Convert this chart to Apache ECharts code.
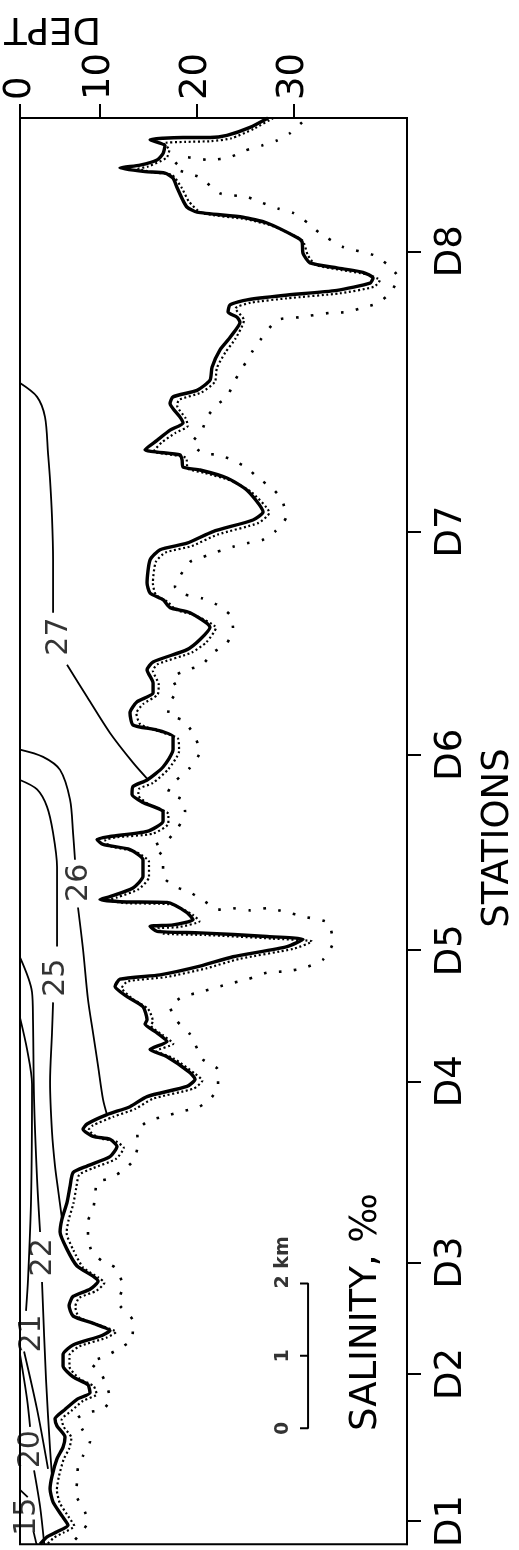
<!DOCTYPE html>
<html><head><meta charset="utf-8">
<script src="https://cdn.jsdelivr.net/npm/echarts@6/dist/echarts.min.js"></script>
<style>html,body{margin:0;padding:0;background:#fff}#c{width:519px;height:1550px}</style>
</head><body><div id="c"></div>
<script>
// depth axis (m) - the "0" tick sits at the surface edge of the frame
const depthTickValues = [1.8, 10, 20, 30];
const depthTickLabels = ['0', '10', '20', '30'];
// stations along the section (km from D1)
const stationNames = ['D1','D2','D3','D4','D5','D6','D7','D8'];
const stationKm = [0, 2.03, 3.57, 6.07, 7.88, 10.58, 13.66, 17.53];

// bottom profile, solid  [depth m, distance km]
const bottomSolid = [[27.37,19.37],[25.52,19.24],[23.14,19.13],[21.39,19.10],[18.61,19.10],[16.55,19.09],[15.21,19.07],[16.75,18.99],[16.55,18.88],[15.93,18.79],[14.18,18.72],[12.11,18.68],[14.69,18.63],[16.75,18.61],[17.58,18.54],[17.99,18.41],[18.61,18.23],[19.02,18.14],[20.05,18.07],[24.79,18.00],[27.27,17.92],[30.36,17.72],[30.88,17.66],[30.98,17.50],[31.70,17.37],[34.48,17.30],[37.16,17.24],[38.20,17.16],[37.89,17.09],[34.48,16.99],[28.92,16.92],[25.21,16.86],[23.45,16.79],[23.25,16.69],[24.18,16.62],[24.48,16.55],[23.45,16.34],[22.42,16.17],[21.60,15.93],[21.39,15.75],[20.05,15.61],[17.58,15.52],[17.27,15.43],[18.30,15.24],[18.61,15.16],[17.27,15.06],[15.93,14.92],[14.69,14.79],[18.30,14.72],[18.51,14.65],[18.61,14.55],[20.36,14.51],[23.14,14.40],[25.21,14.23],[26.86,13.93],[25.82,13.82],[21.70,13.66],[19.02,13.50],[16.24,13.41],[15.21,13.27],[14.90,12.95],[15.21,12.81],[16.55,12.72],[17.27,12.61],[19.33,12.54],[21.39,12.34],[20.36,12.17],[19.02,12.03],[15.52,11.86],[14.90,11.75],[15.52,11.57],[15.52,11.43],[13.87,11.31],[13.14,11.16],[13.45,10.99],[15.93,10.92],[17.58,10.83],[17.58,10.65],[16.55,10.41],[14.90,10.23],[13.45,10.14],[13.35,10.03],[14.48,9.92],[16.55,9.79],[16.55,9.66],[14.90,9.52],[11.08,9.45],[9.74,9.41],[10.36,9.34],[13.14,9.27],[14.48,9.13],[14.48,8.90],[13.45,8.74],[11.08,8.62],[10.05,8.58],[12.11,8.55],[16.96,8.54],[19.02,8.40],[19.64,8.30],[17.58,8.23],[15.21,8.21],[15.93,8.14],[20.36,8.12],[27.27,8.07],[30.98,8.03],[29.33,7.93],[23.76,7.79],[20.36,7.66],[16.24,7.54],[12.11,7.48],[11.60,7.38],[12.84,7.24],[14.48,7.10],[14.90,6.92],[14.69,6.86],[15.93,6.74],[16.96,6.62],[15.21,6.51],[16.96,6.41],[19.33,6.19],[19.85,6.10],[19.02,6.00],[14.90,5.86],[13.14,5.72],[10.77,5.61],[8.71,5.48],[8.30,5.41],[9.33,5.31],[11.08,5.27],[11.80,5.17],[11.08,5.03],[8.71,4.90],[7.27,4.81],[6.96,4.62],[6.65,4.40],[6.13,4.17],[5.93,3.99],[6.65,3.75],[7.68,3.52],[9.33,3.38],[9.85,3.31],[9.02,3.20],[7.27,3.10],[6.86,2.97],[7.27,2.83],[9.54,2.72],[11.08,2.63],[10.05,2.55],[7.27,2.43],[6.24,2.30],[6.24,2.14],[7.27,1.99],[8.81,1.88],[9.02,1.77],[7.68,1.68],[6.44,1.54],[5.41,1.41],[5.62,1.31],[6.44,1.16],[6.24,1.02],[5.62,0.86],[5.10,0.62],[4.90,0.44],[5.21,0.26],[6.13,0.07],[6.75,-0.06],[5.62,-0.15],[4.59,-0.22],[3.87,-0.32]];

// bottom profile, densely dotted trace
const bottomDense = [[27.9,19.37],[25.9,19.22],[23.6,19.09],[21.5,19.05],[18.8,19.04],[16.6,19.02],[17.2,18.93],[16.9,18.82],[15.0,18.70],[14.0,18.67],[15.5,18.62],[17.5,18.58],[18.5,18.40],[19.2,18.22],[20.5,18.06],[25.2,17.97],[27.8,17.88],[30.9,17.68],[31.5,17.47],[32.3,17.34],[35.0,17.27],[37.6,17.21],[38.9,17.13],[38.3,17.04],[34.8,16.95],[29.3,16.88],[25.6,16.82],[24.0,16.74],[24.9,16.58],[24.0,16.32],[23.0,16.14],[22.1,15.92],[21.9,15.73],[20.5,15.58],[18.2,15.48],[18.0,15.40],[18.9,15.22],[19.1,15.12],[17.8,15.02],[16.4,14.89],[15.6,14.77],[18.9,14.68],[19.1,14.53],[20.8,14.47],[23.6,14.36],[25.7,14.20],[27.5,13.92],[26.4,13.78],[22.2,13.62],[19.5,13.46],[16.8,13.37],[15.8,13.24],[15.5,12.95],[15.8,12.79],[17.0,12.69],[17.9,12.58],[19.9,12.50],[22.0,12.33],[21.0,12.13],[19.5,11.99],[16.0,11.83],[15.5,11.74],[16.1,11.55],[16.0,11.41],[14.5,11.28],[13.8,11.15],[14.2,11.00],[16.4,10.89],[18.1,10.80],[18.2,10.63],[17.1,10.38],[15.5,10.19],[14.1,10.11],[14.0,10.02],[15.0,9.90],[17.1,9.76],[17.1,9.63],[15.5,9.49],[11.8,9.44],[10.6,9.40],[11.0,9.32],[13.7,9.24],[15.1,9.10],[15.1,8.89],[14.0,8.72],[11.8,8.61],[10.9,8.57],[12.8,8.53],[17.5,8.51],[19.6,8.37],[20.3,8.28],[18.2,8.20],[16.0,8.18],[16.6,8.11],[20.9,8.09],[27.8,8.04],[31.9,8.00],[30.0,7.90],[24.4,7.76],[21.0,7.63],[16.9,7.51],[12.9,7.45],[12.3,7.36],[13.4,7.21],[15.0,7.07],[15.5,6.90],[15.3,6.84],[16.5,6.71],[17.6,6.59],[15.9,6.49],[17.6,6.39],[19.9,6.17],[20.6,6.08],[19.7,5.97],[15.5,5.83],[13.7,5.69],[11.4,5.58],[9.3,5.46],[8.9,5.40],[9.9,5.29],[11.7,5.24],[12.5,5.15],[11.7,5.00],[9.3,4.87],[7.9,4.78],[7.6,4.60],[7.3,4.38],[6.8,4.15],[6.6,3.98],[7.3,3.74],[8.3,3.50],[9.9,3.36],[10.5,3.29],[9.7,3.18],[7.9,3.08],[7.5,2.96],[7.9,2.81],[10.1,2.70],[11.7,2.61],[10.7,2.53],[7.9,2.41],[6.9,2.29],[6.9,2.13],[7.9,1.97],[9.4,1.86],[9.7,1.75],[8.3,1.66],[7.1,1.52],[6.1,1.40],[6.3,1.30],[7.1,1.15],[6.9,1.01],[6.3,0.85],[5.8,0.61],[5.6,0.43],[5.9,0.25],[6.8,0.06],[7.4,-0.07],[6.3,-0.16],[5.3,-0.23],[4.6,-0.32]];

// bottom profile, sparsely dotted trace
const bottomSparse = [[30.88,19.31],[29.64,19.16],[28.30,19.06],[26.75,18.99],[25.0,18.92],[23.45,18.83],[21.39,18.79],[18.82,18.83],[17.58,18.69],[20.36,18.55],[22.42,18.33],[25.21,18.28],[26.55,18.21],[28.40,18.12],[29.95,18.06],[31.49,17.92],[32.73,17.78],[35.10,17.59],[38.20,17.48],[39.74,17.34],[40.77,17.17],[39.95,16.95],[38.61,16.81],[36.86,16.74],[35.52,16.69],[33.76,16.68],[30.67,16.62],[28.30,16.58],[26.55,16.30],[25.72,16.14],[24.79,15.93],[23.97,15.75],[23.14,15.52],[22.11,15.41],[21.08,15.24],[20.57,15.06],[19.54,14.88],[20.67,14.74],[22.22,14.72],[23.66,14.65],[25.21,14.54],[26.34,14.40],[27.78,14.26],[28.81,14.10],[29.23,13.86],[28.09,13.66],[26.75,13.54],[25.21,13.50],[23.76,13.45],[22.11,13.38],[20.67,13.31],[19.33,13.24],[17.78,12.90],[18.82,12.79],[20.57,12.74],[22.11,12.65],[23.45,12.51],[23.76,12.33],[23.14,12.12],[21.70,11.99],[20.57,11.82],[19.02,11.75],[17.47,11.64],[17.99,11.48],[17.27,11.30],[17.06,11.13],[18.51,11.06],[19.64,10.88],[20.36,10.62],[19.33,10.40],[17.78,10.21],[17.06,10.06],[18.51,9.96],[18.82,9.79],[18.09,9.57],[17.06,9.41],[15.52,9.31],[16.55,9.17],[16.55,8.90],[17.78,8.76],[19.33,8.68],[20.88,8.55],[22.22,8.44],[23.76,8.46],[25.52,8.43],[27.27,8.46],[29.12,8.41],[31.19,8.34],[33.56,8.26],[34.07,7.99],[33.04,7.75],[31.19,7.64],[29.33,7.59],[27.27,7.57],[25.31,7.48],[23.76,7.43],[22.11,7.37],[20.36,7.30],[18.61,7.24],[17.27,7.10],[17.99,6.90],[19.33,6.72],[20.67,6.37],[22.22,6.23],[22.22,6.00],[21.39,5.82],[20.15,5.71],[18.61,5.66],[16.75,5.59],[15.0,5.52],[13.87,5.38],[13.97,5.20],[13.45,4.97],[12.11,4.81],[10.77,4.72],[9.74,4.68],[9.54,4.48],[9.33,4.30],[8.81,4.14],[8.81,3.93],[9.23,3.71],[10.26,3.59],[11.60,3.50],[12.42,3.24],[11.91,3.02],[13.45,2.76],[13.35,2.51],[11.91,2.37],[10.36,2.26],[9.02,2.19],[10.05,2.06],[10.77,1.86],[11.08,1.68],[10.36,1.54],[8.81,1.50],[7.68,1.41],[8.20,1.27],[9.02,1.10],[8.30,0.90],[7.78,0.74],[7.68,0.54],[7.58,0.37],[8.51,0.12],[8.81,-0.01],[7.99,-0.18],[7.27,-0.29]];

// isohalines (salinity, per mille); null = gap for the label
const iso27 = [[1.8,15.71],[3.56,15.52],[4.38,15.24],[4.69,14.74],[4.90,14.37],[5.10,13.86],[5.21,13.27],[5.21,12.54],null,[6.65,11.82],[8.71,11.38],[11.08,10.88],[13.45,10.47],[14.90,10.25]];
const iso26 = [[1.8,10.65],[4.18,10.55],[5.93,10.37],[6.96,9.96],[7.27,9.50],[7.47,9.13],null,[7.78,8.47],[8.30,7.89],[8.81,7.20],[9.33,6.74],[9.85,6.28],[10.36,5.82],[10.77,5.61]];
const iso25 = [[1.8,10.23],[3.56,10.10],[4.59,9.86],[5.21,9.50],[5.62,9.03],[5.62,7.93],null,[5.21,7.16],[5.10,6.74],[4.90,6.06],[5.10,5.37],[5.41,4.90],[5.72,4.58],[6.13,4.17]];
const iso22 = [[1.8,7.78],[3.04,7.30],[3.14,6.92],[3.25,5.82],[3.56,4.72],[3.87,3.99],null,[4.07,3.30],[4.48,1.96],[4.90,0.99],[5.10,0.62]];
const iso21 = [[1.8,6.95],[2.53,6.51],[3.04,6.03],[2.94,4.44],[2.63,3.34],[2.42,2.90],null,[2.22,2.34],[3.56,1.54],[4.69,0.72]];
const iso20 = [[1.8,2.30],[2.53,1.68],[2.84,1.30],null,[3.25,0.70],[3.87,0.20],[4.3,-0.32]];
const iso15 = [[1.8,0.43],[2.6,0.33],null,[3.2,-0.15],[3.5,-0.32]];
const isoLabelText = ['27','26','25','22','21','20','15'];
const isoLabelAt = [[5.82,12.21],[7.89,8.81],[5.52,7.50],[4.18,3.64],[3.04,2.59],[2.94,0.99],[2.53,0.06]];

// scale bar (km)
const scaleKm = [0, 1, 2];
const scaleLabels = ['0', '1', '2 km'];
const scaleOriginKm = 1.28;
const scaleDepth = 31.5;
const scaleTickDepth = 30.67;
const scaleLabelDepth = 28.9;

const FONT = 'DejaVu Sans';
function segs(a){ const out=[[]]; a.forEach(p=>{ if(p===null) out.push([]); else out[out.length-1].push(p); }); return out.filter(s=>s.length>1); }
function nearest(arr, v){ let bi=0; arr.forEach((x,i)=>{ if(Math.abs(x-v)<Math.abs(arr[bi]-v)) bi=i; }); return bi; }

const series = [];
series.push({type:'line', data:bottomSparse, symbol:'none', smooth:0.2, lineStyle:{color:'#000', width:2.6, type:[2.6,12.5]}, z:2});
series.push({type:'line', data:bottomDense, symbol:'none', smooth:0.2, lineStyle:{color:'#000', width:2.2, type:[2,2.6]}, z:3});
series.push({type:'line', data:bottomSolid, symbol:'none', smooth:0.2, lineStyle:{color:'#000', width:3.4}, z:4});
[iso27, iso26, iso25, iso22, iso21, iso20, iso15].forEach(c => segs(c).forEach(s => series.push({type:'line', data:s, symbol:'none', smooth:0.3, lineStyle:{color:'#000', width:1.8}, z:3})));
series.push({type:'scatter', symbolSize:0, z:5, itemStyle:{color:'#000'},
  data: isoLabelAt.map((p,i)=>[p[0], p[1], isoLabelText[i]]),
  label:{show:true, position:'inside', formatter:p=>p.value[2], rotate:90, fontSize:30, fontFamily:FONT, color:'#000', textBorderWidth:0}});
const sbPath = [];
scaleKm.forEach(k => { const s = scaleOriginKm + k; sbPath.push([scaleDepth, s]); sbPath.push([scaleTickDepth, s]); sbPath.push([scaleDepth, s]); });
series.push({type:'line', data:sbPath, symbol:'none', lineStyle:{color:'#000', width:2}, z:5});
series.push({type:'scatter', symbolSize:0, z:5, itemStyle:{color:'#000'},
  data: scaleKm.map((k,i)=>({value:[scaleLabelDepth, scaleOriginKm + k - (i===2?0.07:0), scaleLabels[i]], label:{align: i===2?'left':'center'}})),
  label:{show:true, position:'inside', formatter:p=>p.value[2], rotate:90, fontSize:19, fontWeight:'bold', fontFamily:FONT, color:'#000', textBorderWidth:0}});

const chart = echarts.init(document.getElementById('c'), null, {renderer:'canvas'});
chart.setOption({
  animation:false,
  backgroundColor:'#fff',
  grid:{left:20, right:112, top:118, bottom:5, show:true, borderColor:'#000', borderWidth:2, backgroundColor:'transparent'},
  xAxis:{type:'value', position:'top', min:1.8, max:41.7,
    axisLine:{show:true, onZero:false, lineStyle:{color:'#000', width:2}},
    axisTick:{show:true, customValues:depthTickValues, length:14, lineStyle:{color:'#000', width:2}},
    axisLabel:{customValues:depthTickValues, formatter:v=>depthTickLabels[nearest(depthTickValues, v)], rotate:-90, margin:18, fontSize:37, fontFamily:FONT, color:'#000'},
    splitLine:{show:false}},
  yAxis:{type:'value', position:'right', min:-0.32, max:19.37,
    axisLine:{show:true, onZero:false, lineStyle:{color:'#000', width:2}},
    axisTick:{show:true, customValues:stationKm, length:14, lineStyle:{color:'#000', width:2}},
    axisLabel:{customValues:stationKm, formatter:v=>stationNames[nearest(stationKm, v)], rotate:90, margin:26, fontSize:37, fontFamily:FONT, color:'#000'},
    splitLine:{show:false}},
  graphic:[
    {type:'text', x:101, y:28, rotation:Math.PI, style:{text:'DEPT', font:'37px "DejaVu Sans"', textAlign:'left', textVerticalAlign:'middle', fill:'#000'}},
    {type:'text', x:498, y:838, rotation:Math.PI/2, style:{text:'STATIONS', font:'37px "DejaVu Sans"', textAlign:'center', textVerticalAlign:'middle', fill:'#000'}},
    {type:'text', x:366, y:1312, rotation:Math.PI/2, style:{text:'SALINITY, ‰', font:'37px "DejaVu Sans"', textAlign:'center', textVerticalAlign:'middle', fill:'#000'}}
  ],
  series: series
});
</script></body></html>
